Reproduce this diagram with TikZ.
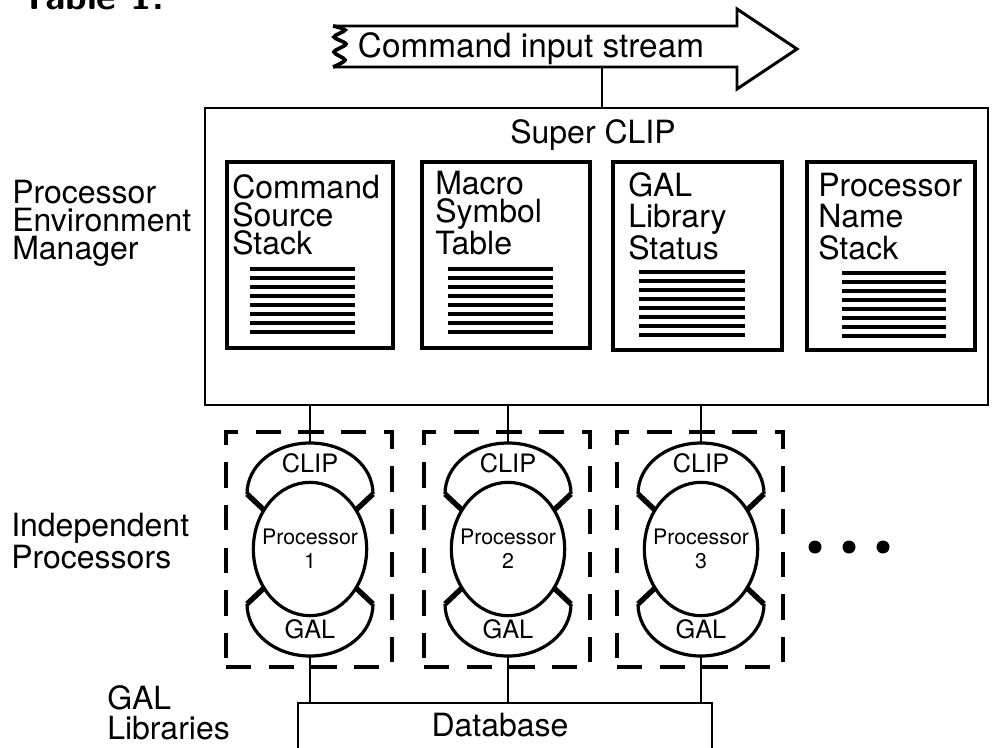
\documentclass[tikz,border=0pt]{standalone}
\usepackage{fontspec}
\setmainfont{TeX Gyre Heros}
\usetikzlibrary{fit,shapes.geometric}
\begin{document}
\begin{tikzpicture}[x=0.75pt,y=-0.75pt]
\tikzset{
  lw/.style={line width=2.2pt},
  lbl/.style={font=\fontsize{24}{21}\selectfont, inner sep=0, align=left},
  lblwide/.style={font=\fontsize{24}{23.5}\selectfont, inner sep=0, align=left},
  boxbig/.style={draw, line width=2.2pt, inner sep=0},
  inbox/.style={draw, line width=2.6pt, inner sep=0},
  dbox/.style={draw, line width=3pt, dash pattern=on 19pt off 13pt, inner sep=0},
  stripe/.style={line width=2.6pt},
  proc/.style={ellipse, draw, line width=2.4pt, inner sep=0, minimum width=85pt, minimum height=100pt},
  proctext/.style={inner sep=0, align=center, font=\fontsize{16}{18}\selectfont},
  capline/.style={line width=2.4pt},
  capjoin/.style={line width=4pt},
  small/.style={font=\fontsize{19}{19}\selectfont, inner sep=0},
}
\useasboundingbox (0,0) rectangle (992,747);
\clip (0,0) rectangle (992,747);

% caption fragment (cut off by the top edge)
\node[anchor=base west, inner sep=0, font=\sffamily\bfseries\fontsize{29}{29}\selectfont] (tab) at (20,9) {Table 1.};

% command input stream arrow
\draw[lw, line join=miter] (333,26) -- (737,26) -- (737,9) -- (797,49) -- (737,89) -- (737,67) -- (333,67);
\draw[line width=2.8pt] plot[smooth] coordinates {(333,26) (345,30) (334,37) (346,44) (334,52) (345,60) (333,67)};
\node[lbl, anchor=base, font=\fontsize{25}{25}\selectfont] (cis) at (531,57) {Command input stream};
\coordinate (arrowbot) at (602,67);

% Super CLIP
\node[boxbig, fit={(205,108) (988,405)}] (super) {};
\node[lbl, anchor=base] (suptitle) at (593,143) {Super CLIP};
\draw[lw] (arrowbot) -- (super.north -| arrowbot);

% inner boxes
\node[inbox, fit={(227,162) (393,348)}] (b1) {};
\node[inbox, fit={(422,162) (590,348)}] (b2) {};
\node[inbox, fit={(613,162) (782,350)}] (b3) {};
\node[inbox, fit={(807,162) (975,350)}] (b4) {};
\node[lbl, anchor=base west] (t1) at (232,254) {Command\\Source\\Stack};
\node[lbl, anchor=base west] (t2) at (435,254) {Macro\\Symbol\\Table};
\node[lblwide, anchor=base west] (t3) at (628,259) {GAL\\Library\\Status};
\node[lblwide, anchor=base west] (t4) at (818,259) {Processor\\Name\\Stack};
\foreach \xa/\xb/\ya in {250/355/269, 448/553/269, 639/745/272, 842/946/273} {
  \foreach \k in {0,...,7} {
    \draw[stripe] (\xa,\ya+\k*9) -- (\xb,\ya+\k*9);
  }
}

% left labels
\node[lbl, anchor=base west] (pem) at (12,259) {Processor\\Environment\\Manager};
\node[lbl, anchor=base west, font=\fontsize{24}{22.5}\selectfont] (ip) at (11,568) {Independent\\Processors};
\node[lbl, anchor=base west, font=\fontsize{24}{22.5}\selectfont] (gl) at (107,739) {GAL\\Libraries};

% database
\node[boxbig, fit={(298,703) (712,780)}] (db) {};
\node[lbl, anchor=base] (dbt) at (500,736) {Database};

% processors
\foreach \i/\cx in {1/310,2/508,3/701} {
  \node[dbox, fit={(\cx-84,432) (\cx+82,667)}] (d\i) {};
  \node[proc] (p\i) at (\cx,549) {};
  \node[proctext] (pt\i) at (p\i.center) {Processor\\\i};
  \coordinate (clip\i) at (\cx,443);
  \coordinate (gal\i) at (\cx,656);
  \draw[capline] (\cx-63,494) .. controls (\cx-63,465) and (\cx-35,443) .. (clip\i) .. controls (\cx+35,443) and (\cx+63,465) .. (\cx+63,494);
  \draw[capjoin] (\cx-63,494) -- (\cx-46,510);
  \draw[capjoin] (\cx+63,494) -- (\cx+46,510);
  \draw[capline] (\cx-63,604) .. controls (\cx-63,633) and (\cx-35,656) .. (gal\i) .. controls (\cx+35,656) and (\cx+63,633) .. (\cx+63,604);
  \draw[capjoin] (\cx-63,604) -- (\cx-46,588);
  \draw[capjoin] (\cx+63,604) -- (\cx+46,588);
  \node[small, anchor=base] (cl\i) at (\cx,472) {CLIP};
  \node[small, anchor=base] (ga\i) at (\cx,638) {GAL};
  \draw[lw] (super.south -| clip\i) -- (clip\i);
  \draw[lw] (gal\i) -- (db.north -| gal\i);
}

% ellipsis dots
\fill (815,547) circle[radius=6.5];
\fill (849,547) circle[radius=6.5];
\fill (883,547) circle[radius=6.5];
\end{tikzpicture}
\end{document}
